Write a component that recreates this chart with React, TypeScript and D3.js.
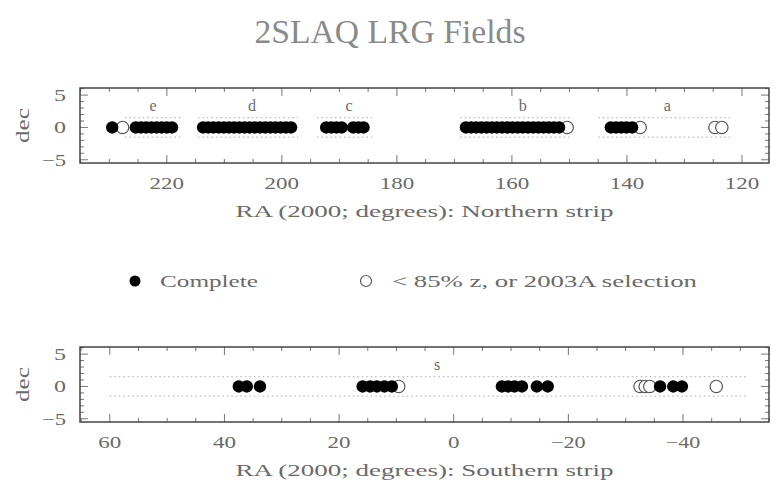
import * as React from 'react';
import * as d3 from 'd3';

// Northern strip (RA in degrees, all at dec 0)
const northComplete = [
  229.5,
  225.4, 224.5, 223.6, 222.7, 221.8, 220.9, 220.0, 219.1,
  213.7, 212.8, 211.9, 211.0, 210.1, 209.2, 208.3, 207.4, 206.5, 205.6, 204.7, 203.8, 202.9, 202.0, 201.1, 200.2, 199.3, 198.4,
  192.3, 191.4, 190.5, 189.6, 187.6, 186.7, 185.8,
  168.0, 167.1, 166.2, 165.3, 164.4, 163.5, 162.6, 161.7, 160.8, 159.9, 159.0, 158.1, 157.2, 156.3, 155.4, 154.5, 153.6, 152.7, 151.8,
  142.8, 141.9, 141.0, 140.1, 139.1,
];
const northPartial = [227.7, 150.4, 137.7, 124.7, 123.5];
const northFieldNames = ['e', 'd', 'c', 'b', 'a'];
const northFieldRA = [222.4, 205.2, 188.3, 158.1, 133.0];
const northStripStart = [227.3, 214.6, 193.9, 169.0, 145.0];
const northStripEnd = [217.2, 197.2, 184.3, 149.4, 121.6];

// Southern strip
const southComplete = [
  37.5, 36.1, 33.8,
  15.9, 14.6, 13.4, 12.1, 10.8,
  -8.4, -9.5, -10.6, -11.9, -14.5, -16.4,
  -36.0, -38.3, -39.8,
];
const southPartial = [9.6, -32.5, -33.4, -34.2, -45.8];
const southFieldNames = ['s'];
const southFieldRA = [2.9];
const southStripStart = [60];
const southStripEnd = [-51.2];

const northTicks = [220, 200, 180, 160, 140, 120];
const southTicks = [60, 40, 20, 0, -20, -40];
const decTicks = [5, 0, -5];

const FONT = '"Liberation Serif", "DejaVu Serif", serif';
const TXT = '#6a6a6a';

interface PanelProps {
  top: number;
  xDomain: [number, number];
  complete: number[];
  partial: number[];
  names: string[];
  nameRA: number[];
  stripStart: number[];
  stripEnd: number[];
  ticks: number[];
  title: string;
}

const fmt = (v: number) => (v < 0 ? '\u2212' + Math.abs(v) : String(v));

const Panel: React.FC<PanelProps> = ({
  top, xDomain, complete, partial, names, nameRA, stripStart, stripEnd, ticks, title,
}) => {
  const left = 80;
  const right = 769;
  const bottom = top + 75;
  const x = d3.scaleLinear().domain(xDomain).range([left, right]);
  const y = d3.scaleLinear().domain([-5.5, 6.1]).range([bottom, top]);
  const lo = Math.ceil(Math.min(...xDomain) / 5) * 5;
  const hi = Math.floor(Math.max(...xDomain) / 5) * 5;
  const xMinor = d3.range(lo, hi + 1, 5).filter(v => v % 20 !== 0);
  const yMinor = d3.range(-5, 7, 1).filter(v => v % 5 !== 0);
  const r = 6.2;
  return (
    <g>
      {/* strip outlines */}
      <g stroke="#a8a8a8" strokeWidth={1} strokeDasharray="1.5,3">
        {stripStart.map((s, i) => (
          <g key={i}>
            <line x1={x(s)} x2={x(stripEnd[i])} y1={y(1.5)} y2={y(1.5)} />
            <line x1={x(s)} x2={x(stripEnd[i])} y1={y(-1.5)} y2={y(-1.5)} />
          </g>
        ))}
      </g>
      {/* ticks */}
      <g stroke="#777" strokeWidth={1}>
        {ticks.map(v => (
          <g key={'M' + v}>
            <line x1={x(v)} x2={x(v)} y1={bottom} y2={bottom - 8} />
            <line x1={x(v)} x2={x(v)} y1={top} y2={top + 8} />
          </g>
        ))}
        {xMinor.map(v => (
          <g key={'m' + v}>
            <line x1={x(v)} x2={x(v)} y1={bottom} y2={bottom - 4} />
            <line x1={x(v)} x2={x(v)} y1={top} y2={top + 4} />
          </g>
        ))}
        {decTicks.map(v => (
          <g key={'D' + v}>
            <line x1={left} x2={left + 8} y1={y(v)} y2={y(v)} />
            <line x1={right} x2={right - 8} y1={y(v)} y2={y(v)} />
          </g>
        ))}
        {yMinor.map(v => (
          <g key={'d' + v}>
            <line x1={left} x2={left + 4} y1={y(v)} y2={y(v)} />
            <line x1={right} x2={right - 4} y1={y(v)} y2={y(v)} />
          </g>
        ))}
      </g>
      <rect x={left} y={top} width={right - left} height={bottom - top} fill="none" stroke="#444" strokeWidth={1.5} />
      {/* points: partial first, complete drawn over them */}
      <g fill="#fff" stroke="#555" strokeWidth={1.2}>
        {partial.map((v, i) => <circle key={i} cx={x(v)} cy={y(0)} r={r} />)}
      </g>
      <g fill="#000">
        {complete.map((v, i) => <circle key={i} cx={x(v)} cy={y(0)} r={r} />)}
      </g>
      {/* field names */}
      <g fill={TXT} fontFamily={FONT} fontSize={16} textAnchor="middle">
        {names.map((n, i) => (
          <text key={n} x={x(nameRA[i])} y={y(2.5)}>{n}</text>
        ))}
      </g>
      {/* tick labels */}
      <g fill={TXT} fontFamily={FONT} fontSize={17} textAnchor="middle">
        {ticks.map(v => {
          const s = fmt(v);
          return (
            <text key={v} x={x(v)} y={bottom + 26} textLength={s.length * 11.5} lengthAdjust="spacingAndGlyphs">{s}</text>
          );
        })}
      </g>
      <g fill={TXT} fontFamily={FONT} fontSize={17} textAnchor="end">
        {decTicks.map(v => {
          const s = fmt(v);
          return (
            <text key={v} x={66} y={y(v) + 6} textLength={s.length * 12} lengthAdjust="spacingAndGlyphs">{s}</text>
          );
        })}
      </g>
      <text
        transform={`translate(29,${(top + bottom) / 2}) rotate(-90)`}
        fill={TXT} fontFamily={FONT} fontSize={18} textAnchor="middle"
        textLength={35} lengthAdjust="spacingAndGlyphs"
      >dec</text>
      <text
        x={(left + right) / 2} y={bottom + 54}
        fill={TXT} fontFamily={FONT} fontSize={17} textAnchor="middle"
        textLength={378} lengthAdjust="spacingAndGlyphs"
      >{title}</text>
    </g>
  );
};

const App: React.FC = () => {
  return (
    <div style={{ position: 'absolute', left: 0, top: 0 }}>
      <svg width={781} height={481} style={{ display: 'block', background: '#fff' }}>
        <text
          x={390} y={43} fill="#8a8a8a" fontFamily={FONT} fontSize={34}
          textAnchor="middle" textLength={271} lengthAdjust="spacingAndGlyphs"
        >2SLAQ LRG Fields</text>
        <Panel
          top={88}
          xDomain={[235.1, 115.3]}
          complete={northComplete}
          partial={northPartial}
          names={northFieldNames}
          nameRA={northFieldRA}
          stripStart={northStripStart}
          stripEnd={northStripEnd}
          ticks={northTicks}
          title="RA (2000; degrees): Northern strip"
        />
        {/* legend */}
        <circle cx={135} cy={281} r={5.5} fill="#000" />
        <text x={160} y={287} fill={TXT} fontFamily={FONT} fontSize={17} textLength={98} lengthAdjust="spacingAndGlyphs">Complete</text>
        <circle cx={366} cy={281} r={5.5} fill="#fff" stroke="#555" strokeWidth={1.2} />
        <text x={392} y={287} fill={TXT} fontFamily={FONT} fontSize={17} textLength={305} lengthAdjust="spacingAndGlyphs">&lt; 85% z, or 2003A selection</text>
        <Panel
          top={347}
          xDomain={[65.2, -55]}
          complete={southComplete}
          partial={southPartial}
          names={southFieldNames}
          nameRA={southFieldRA}
          stripStart={southStripStart}
          stripEnd={southStripEnd}
          ticks={southTicks}
          title="RA (2000; degrees): Southern strip"
        />
      </svg>
    </div>
  );
};

export default App;
